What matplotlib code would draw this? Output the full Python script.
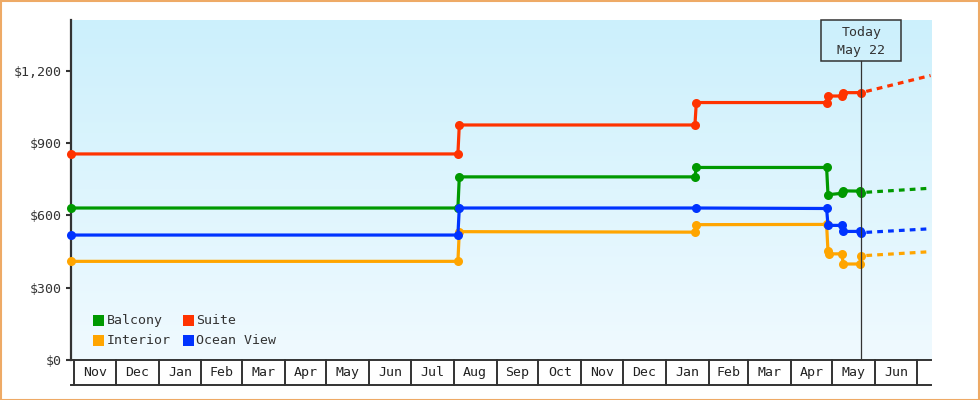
import matplotlib
matplotlib.use('Agg')
import matplotlib.pyplot as plt
import matplotlib.dates as mdates
from matplotlib.patches import Rectangle
from matplotlib.lines import Line2D
from matplotlib.transforms import blended_transform_factory
import numpy as np
import datetime as dt


def D(s):
    return dt.datetime.strptime(s, '%Y-%m-%d')

# ---------------- data ----------------
suite_dates = ['2023-10-30', '2024-08-04', '2024-08-05', '2025-01-22', '2025-01-23',
               '2025-04-27', '2025-04-28', '2025-05-08', '2025-05-09', '2025-05-22']
suite_prices = [855, 855, 975, 975, 1068, 1068, 1095, 1095, 1109, 1109]

balcony_dates = ['2023-10-30', '2024-08-04', '2024-08-05', '2025-01-22', '2025-01-23',
                 '2025-04-27', '2025-04-28', '2025-05-08', '2025-05-09', '2025-05-21', '2025-05-22']
balcony_prices = [631, 631, 760, 760, 799, 799, 686, 692, 702, 701, 695]

ocean_dates = ['2023-10-30', '2024-08-04', '2024-08-05', '2025-01-23',
               '2025-04-27', '2025-04-28', '2025-05-08', '2025-05-09', '2025-05-21', '2025-05-22']
ocean_prices = [519, 519, 631, 631, 629, 559, 559, 534, 534, 529]

interior_dates = ['2023-10-30', '2024-08-04', '2024-08-05', '2025-01-22', '2025-01-23',
                  '2025-04-27', '2025-04-28', '2025-04-29', '2025-05-08', '2025-05-09',
                  '2025-05-21', '2025-05-22']
interior_prices = [410, 410, 533, 531, 562, 563, 451, 441, 441, 399, 399, 433]

forecast_dates = ['2025-05-22', '2025-07-11']
suite_forecast = [1109, 1180]
balcony_forecast = [695, 713]
ocean_forecast = [529, 545]
interior_forecast = [433, 450]

month_labels = ['Nov', 'Dec', 'Jan', 'Feb', 'Mar', 'Apr', 'May', 'Jun', 'Jul', 'Aug',
                'Sep', 'Oct', 'Nov', 'Dec', 'Jan', 'Feb', 'Mar', 'Apr', 'May', 'Jun']
month_starts = ['2023-11-01', '2023-12-01', '2024-01-01', '2024-02-01', '2024-03-01',
                '2024-04-01', '2024-05-01', '2024-06-01', '2024-07-01', '2024-08-01',
                '2024-09-01', '2024-10-01', '2024-11-01', '2024-12-01', '2025-01-01',
                '2025-02-01', '2025-03-01', '2025-04-01', '2025-05-01', '2025-06-01',
                '2025-07-01']

yticks = [0, 300, 600, 900, 1200]
ytick_labels = ['$0', '$300', '$600', '$900', '$1,200']

today = '2025-05-22'
today_label = 'Today\nMay 22'

legend_names = ['Balcony', 'Suite', 'Interior', 'Ocean View']

# ---------------- style ----------------
C_SUITE = '#ff3300'
C_BALC = '#009900'
C_INT = '#ffa500'
C_OCEAN = '#0033ff'
DARK = '#333333'
FONT = 'DejaVu Sans Mono'
FS = 9.5

plt.rcParams['font.family'] = [FONT, 'DejaVu Sans']

W, H = 980, 400
fig = plt.figure(figsize=(W / 100, H / 100), dpi=100)
fig.patch.set_facecolor('white')

ax_l, ax_r, ax_t, ax_b = 70.5, 930.7, 20.0, 360.3
ax = fig.add_axes([ax_l / W, (H - ax_b) / H, (ax_r - ax_l) / W, (ax_b - ax_t) / H])

xmin = mdates.date2num(D('2023-10-29')) + 0.5
xmax = mdates.date2num(D('2025-07-11')) + 0.1
ax.set_xlim(xmin, xmax)
ax.set_ylim(0, 1410)

# gradient background
grad = np.linspace(0, 1, 256).reshape(-1, 1)
top = np.array([204, 240, 252]) / 255.0
bot = np.array([240, 250, 255]) / 255.0
img = top[None, None, :] * (1 - grad[:, :, None]) + bot[None, None, :] * grad[:, :, None]
ax.imshow(img, extent=[0, 1, 0, 1], transform=ax.transAxes, aspect='auto', zorder=0)

lw = 2.3
ms = 6.5
series = [
    (balcony_dates, balcony_prices, balcony_forecast, C_BALC),
    (interior_dates, interior_prices, interior_forecast, C_INT),
    (suite_dates, suite_prices, suite_forecast, C_SUITE),
    (ocean_dates, ocean_prices, ocean_forecast, C_OCEAN),
]
fd = [D(s) for s in forecast_dates]
for dates, prices, fc, col in series:
    xs = [D(s) for s in dates]
    ax.plot(xs, prices, color=col, lw=lw, marker='o', ms=ms, mew=0, zorder=3,
            solid_joinstyle='miter', clip_on=False)
    ax.plot(fd, fc, color=col, lw=lw, linestyle=(1.8, (1.8, 1.6)),
            dash_capstyle='butt', zorder=3)

# axes styling
for s in ['top', 'right']:
    ax.spines[s].set_visible(False)
ax.spines['left'].set_color(DARK)
ax.spines['left'].set_linewidth(1.6)
ax.spines['left'].set_zorder(2)
ax.spines['bottom'].set_color(DARK)
ax.spines['bottom'].set_linewidth(1.4)
ax.set_yticks(yticks)
ax.set_yticklabels(ytick_labels, fontsize=FS, color=DARK, family=FONT)
ax.tick_params(axis='y', direction='out', length=3.8, width=1.5, color=DARK, pad=2.5)
ax.set_xticks([])

# month cells below the axis
cell_h = 25.0 / (ax_b - ax_t)
bt = blended_transform_factory(ax.transData, ax.transAxes)
for s in month_starts:
    x = mdates.date2num(D(s))
    ax.add_line(Line2D([x, x], [0, -cell_h], transform=bt, color=DARK, lw=1.4,
                       clip_on=False))
ax.add_line(Line2D([0, 1], [-cell_h, -cell_h], transform=ax.transAxes, color=DARK,
                   lw=1.4, clip_on=False))
for i, lab in enumerate(month_labels):
    a = mdates.date2num(D(month_starts[i]))
    b = mdates.date2num(D(month_starts[i + 1]))
    ax.text((a + b) / 2, -cell_h / 2, lab, transform=bt, ha='center', va='center',
            fontsize=FS, color='#222222', family=FONT, clip_on=False)

# today marker
fig.canvas.draw()
tnum = mdates.date2num(D(today))
tx_px = ax.transData.transform((tnum, 0))[0]
box_w, box_top, box_bot = 80.4, 20.0, 60.7
fig.add_artist(Rectangle(((tx_px - box_w / 2) / W, (H - box_bot) / H), box_w / W,
                         (box_bot - box_top) / H, transform=fig.transFigure,
                         facecolor='none', edgecolor=DARK, lw=1.1, zorder=5))
ax.add_line(Line2D([tnum, tnum], [0, (ax_b - box_bot) / (ax_b - ax_t)], transform=bt,
                   color=DARK, lw=0.9, zorder=4))
fig.text(tx_px / W, (H - 32.3) / H, today_label.split('\n')[0], ha='center',
         va='center', fontsize=FS, color=DARK, family=FONT)
fig.text(tx_px / W, (H - 50.7) / H, today_label.split('\n')[1], ha='center',
         va='center', fontsize=FS, color=DARK, family=FONT)

# legend
leg_cols = [C_BALC, C_SUITE, C_INT, C_OCEAN]
leg_pos = [(93, 320.7), (183, 320.7), (93, 340.5), (183, 340.5)]
for name, col, (lx, ly) in zip(legend_names, leg_cols, leg_pos):
    fig.add_artist(Rectangle((lx / W, (H - ly - 5.5) / H), 11 / W, 11 / H,
                             transform=fig.transFigure, facecolor=col, edgecolor='none',
                             zorder=6))
    fig.text((lx + 13.5) / W, (H - ly) / H, name, ha='left', va='center', fontsize=FS,
             color=DARK, family=FONT, zorder=6)

# outer border
fig.add_artist(Rectangle((0.5 / W, 0.5 / H), (W - 1.5) / W, (H - 1.5) / H,
                         transform=fig.transFigure, facecolor='none',
                         edgecolor='#eeaa66', lw=1.5, zorder=10))

fig.savefig('out.png', dpi=100)
